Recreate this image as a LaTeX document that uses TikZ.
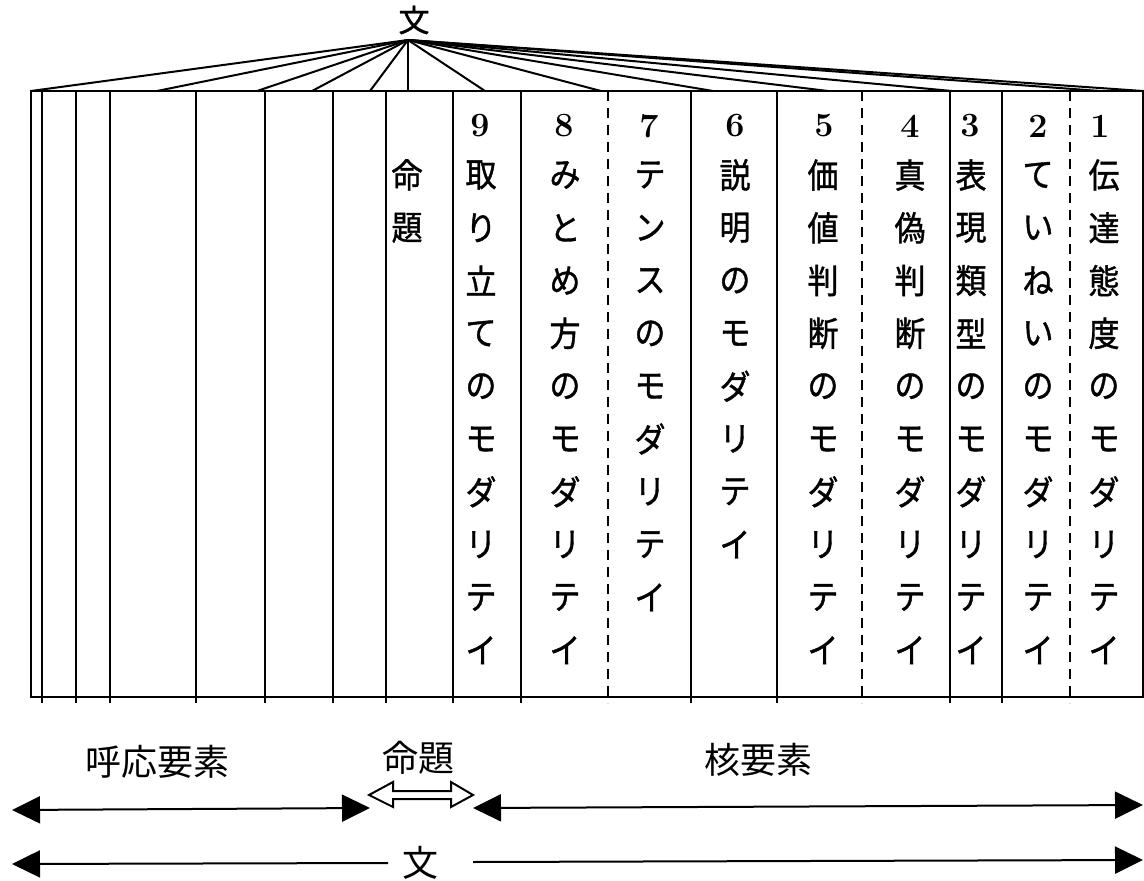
\documentclass[tikz,border=0pt]{standalone}
\usepackage{fontspec}
\newfontfamily\jp{Noto Sans CJK JP}
\newfontfamily\jpb{Noto Sans CJK JP}[FakeBold=1.2]
\usetikzlibrary{arrows.meta}
\newcommand\vcolumn[3]{%
  \foreach \ch [count=\i] in {#3} {
    \node[jt] (#2-\i) at (#1, {175+52.8*(\i-1)}) {\scalebox{1}[1.1]{\ch}};
  }%
}
\begin{document}
\begin{tikzpicture}[x=0.5pt,y=-0.5pt,line width=1pt,
  jt/.style={font=\jpb\fontsize{15.5}{16}\selectfont, inner sep=0pt},
  lbl/.style={font=\jp\fontsize{18}{19}\selectfont, inner sep=0pt},
  dig/.style={font=\bfseries\fontsize{17}{18}\selectfont, inner sep=0pt},
  fan/.style={line width=1pt},
  sepline/.style={line width=1pt},
  dsepline/.style={line width=0.7pt, dash pattern=on 5pt off 3.5pt},
  bigtip/.style={line width=1pt, {Triangle[length=14pt,width=13.5pt]}-{Triangle[length=14pt,width=13.5pt]}},
  righttip/.style={line width=1pt, -{Triangle[length=14pt,width=13.5pt]}},
  lefttip/.style={line width=1pt, {Triangle[length=14pt,width=13.5pt]}-},
  hollow/.style={line width=1pt, fill=white, line join=miter}]
\useasboundingbox (0,0) rectangle (1144,881);

% top label and fan
\node[jt] (top) at (414,20) {文};
\coordinate (apex) at (408,40);
\foreach \xx [count=\k] in {31,157,257,312,370,408,485,601,713,828,952,1100,1143}
  \draw[fan] (apex) -- (\xx,91) coordinate (f\k);

% box
\draw[sepline] (31,91) rectangle (1143,697);
\foreach \xx in {42,76,110,196,265,333,386,453,521,691,777,950,1002}
  \draw[sepline] (\xx,91) -- (\xx,703);
\foreach \xx in {608,862,1070}
  \draw[dsepline] (\xx,91) -- (\xx,703);

% column texts
\vcolumn{407}{cp}{命,題}
\node[dig] (n9) at (480,126) {9};
\vcolumn{481}{c9}{取,り,立,て,の,モ,ダ,リ,テ,イ}
\node[dig] (n8) at (564,126) {8};
\vcolumn{565}{c8}{み,と,め,方,の,モ,ダ,リ,テ,イ}
\node[dig] (n7) at (649,126) {7};
\vcolumn{650}{c7}{テ,ン,ス,の,モ,ダ,リ,テ,イ}
\node[dig] (n6) at (735,126) {6};
\vcolumn{735}{c6}{説,明,の,モ,ダ,リ,テ,イ}
\node[dig] (n5) at (824,126) {5};
\vcolumn{823}{c5}{価,値,判,断,の,モ,ダ,リ,テ,イ}
\node[dig] (n4) at (910,126) {4};
\vcolumn{910}{c4}{真,偽,判,断,の,モ,ダ,リ,テ,イ}
\node[dig] (n3) at (970,126) {3};
\vcolumn{971}{c3}{表,現,類,型,の,モ,ダ,リ,テ,イ}
\node[dig] (n2) at (1038,126) {2};
\vcolumn{1038}{c2}{て,い,ね,い,の,モ,ダ,リ,テ,イ}
\node[dig] (n1) at (1100,126) {1};
\vcolumn{1104}{c1}{伝,達,態,度,の,モ,ダ,リ,テ,イ}

% bottom labels
\node[lbl] (koou) at (157,762) {呼応要素};
\node[lbl] (meidai) at (418,758) {命題};
\node[lbl] (kaku) at (758,760) {核要素};

% arrows row 1
\coordinate (a1l) at (12,810);
\coordinate (a1r) at (370,808);
\draw[bigtip] (a1l) -- (a1r);
\coordinate (k1l) at (473,808);
\coordinate (k1r) at (1143,805);
\draw[bigtip] (k1l) -- (k1r);
\draw[hollow] (369,795) -- (393,782) -- (393,791) -- (451,791) -- (451,782)
  -- (473,795) -- (451,807) -- (451,799) -- (393,799) -- (393,807) -- cycle;

% arrows row 2
\node[lbl] (bun) at (420,863) {文};
\coordinate (b1l) at (12,864);
\coordinate (b1m) at (388,863);
\coordinate (b2m) at (473,862);
\coordinate (b2r) at (1143,860);
\draw[lefttip] (b1l) -- (b1m);
\draw[righttip] (b2m) -- (b2r);
\end{tikzpicture}
\end{document}
